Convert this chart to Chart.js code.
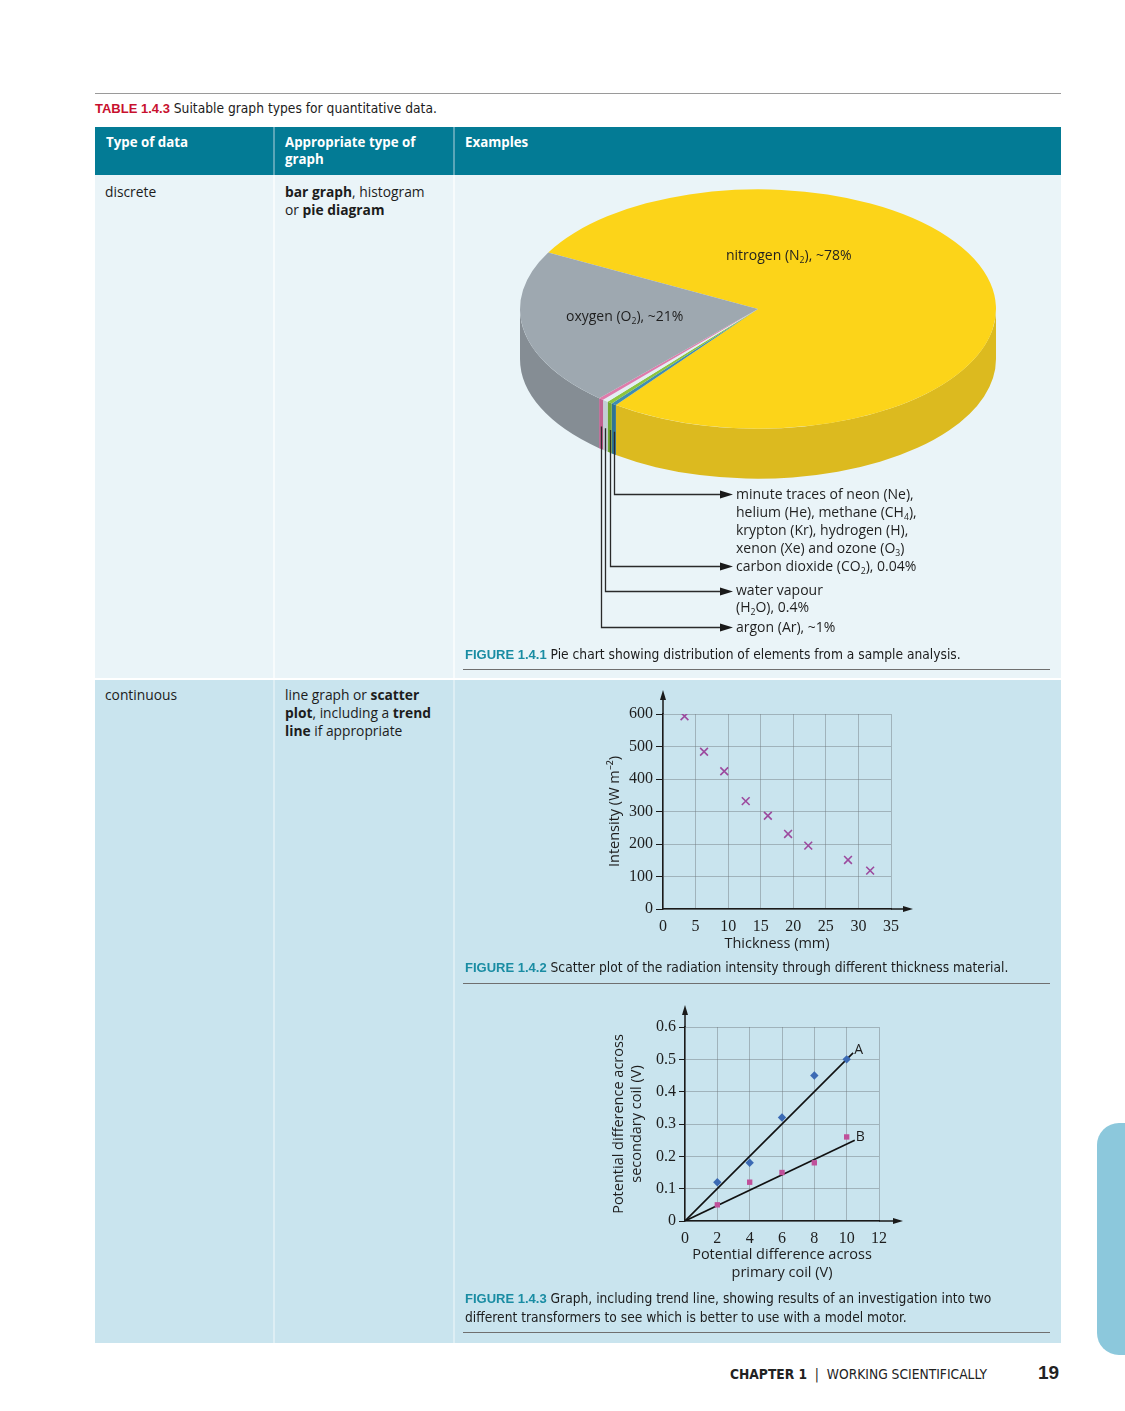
<!DOCTYPE html>
<html>
<head>
<meta charset="utf-8">
<script src="https://cdn.jsdelivr.net/npm/chart.js@4.4.1/dist/chart.umd.min.js"></script>
<style>
  html, body { margin: 0; padding: 0; background: #fff; }
  #page { position: relative; width: 1125px; height: 1411px; overflow: hidden; font-family: "Open Sans", sans-serif; color: #1c1c1c; }
  .abs { position: absolute; white-space: nowrap; }
  .box { position: absolute; }
  .cond { font-family: "Liberation Sans Narrow", "DejaVu Sans Condensed", sans-serif; font-size: 13.7px; line-height: 18px; }
  .tag { font-family: "Liberation Sans", sans-serif; font-weight: bold; font-size: 13px; }
  .head { color: #fff; font-weight: 700; font-size: 13.3px; line-height: 17px; z-index: 3; }
  .cell { font-size: 13.8px; line-height: 18px; z-index: 3; }
  .cell b { font-weight: 700; }
  .lbl { font-size: 14px; line-height: 18px; z-index: 3; color: #1f1f1f; }
  sub { font-size: 0.62em; vertical-align: -0.3em; line-height: 0; }
  canvas { position: absolute; z-index: 2; }
</style>
</head>
<body>
<div id="page">
  <!-- page furniture -->
  <div class="box" style="left:95px;top:93px;width:966px;height:1px;background:#9a9a9a"></div>
  <div class="abs cond" style="left:95px;top:99px"><span class="tag" style="color:#c8102e">TABLE 1.4.3</span> Suitable graph types for quantitative data.</div>

  <div class="box" style="left:95px;top:127px;width:966px;height:48px;background:#037b95"></div>
  <div class="box" style="left:95px;top:175px;width:966px;height:503px;background:#eaf4f8"></div>
  <div class="box" style="left:95px;top:680px;width:966px;height:663px;background:#c9e4ee"></div>
  <div class="box" style="left:273px;top:127px;width:2px;height:48px;background:#5aa6b8"></div>
  <div class="box" style="left:453px;top:127px;width:2px;height:48px;background:#5aa6b8"></div>
  <div class="box" style="left:273px;top:175px;width:2px;height:503px;background:#f7fbfc"></div>
  <div class="box" style="left:453px;top:175px;width:2px;height:503px;background:#f7fbfc"></div>
  <div class="box" style="left:273px;top:680px;width:2px;height:663px;background:#ddeef4"></div>
  <div class="box" style="left:453px;top:680px;width:2px;height:663px;background:#ddeef4"></div>

  <div class="abs head" style="left:106px;top:134px">Type of data</div>
  <div class="abs head" style="left:285px;top:134px">Appropriate type of<br>graph</div>
  <div class="abs head" style="left:465px;top:134px">Examples</div>

  <div class="abs cell" style="left:105px;top:183px">discrete</div>
  <div class="abs cell" style="left:285px;top:183px"><b>bar graph</b>, histogram<br>or <b>pie diagram</b></div>
  <div class="abs cell" style="left:105px;top:686px">continuous</div>
  <div class="abs cell" style="left:285px;top:686px">line graph or <b>scatter</b><br><b>plot</b>, including a <b>trend</b><br><b>line</b> if appropriate</div>

  <!-- figure 1.4.1 -->
  <canvas id="pieChart" width="500" height="480" style="left:508px;top:170px"></canvas>
  <div class="abs lbl" style="left:726px;top:246px">nitrogen (N<sub>2</sub>), ~78%</div>
  <div class="abs lbl" style="left:566px;top:307px">oxygen (O<sub>2</sub>), ~21%</div>
  <div class="abs lbl" style="left:736px;top:485px">minute traces of neon (Ne),<br>helium (He), methane (CH<sub>4</sub>),<br>krypton (Kr), hydrogen (H),<br>xenon (Xe) and ozone (O<sub>3</sub>)<br>carbon dioxide (CO<sub>2</sub>), 0.04%</div>
  <div class="abs lbl" style="left:736px;top:581px;line-height:17px">water vapour<br>(H<sub>2</sub>O), 0.4%</div>
  <div class="abs lbl" style="left:736px;top:618px">argon (Ar), ~1%</div>
  <div class="abs cond" style="left:465px;top:645px;z-index:3"><span class="tag" style="color:#198ca3">FIGURE 1.4.1</span> Pie chart showing distribution of elements from a sample analysis.</div>
  <div class="box" style="left:463px;top:669px;width:587px;height:1px;background:#6f6f6f"></div>

  <!-- figure 1.4.2 -->
  <canvas id="scatterChart" width="340" height="290" style="left:590px;top:680px"></canvas>
  <div class="abs cond" style="left:465px;top:958px;z-index:3"><span class="tag" style="color:#198ca3">FIGURE 1.4.2</span> Scatter plot of the radiation intensity through different thickness material.</div>
  <div class="box" style="left:463px;top:983px;width:587px;height:1px;background:#6f6f6f"></div>

  <!-- figure 1.4.3 -->
  <canvas id="coilChart" width="320" height="300" style="left:600px;top:990px"></canvas>
  <div class="abs cond" style="left:465px;top:1289px;z-index:3"><span class="tag" style="color:#198ca3">FIGURE 1.4.3</span> Graph, including trend line, showing results of an investigation into two<br>different transformers to see which is better to use with a model motor.</div>
  <div class="box" style="left:463px;top:1332px;width:587px;height:1px;background:#6f6f6f"></div>

  <!-- footer -->
  <div class="abs cond" style="left:730px;top:1365px;color:#222"><span style="font-weight:bold">CHAPTER 1</span> &nbsp;|&nbsp; WORKING SCIENTIFICALLY</div>
  <div class="abs" style="left:1038px;top:1361px;font-family:'Liberation Sans',sans-serif;font-weight:bold;font-size:19px;line-height:24px;color:#222">19</div>
  <div class="box" style="left:1097px;top:1123px;width:40px;height:232px;background:#8cc8dc;border-radius:22px 0 0 22px"></div>
</div>

<script>
// ---------- 그림 1.4.1 : 공기 성분 (그려진 비율 기준, %) ----------
const gasNames = ['nitrogen', 'minute traces', 'carbon dioxide', 'water vapour', 'argon', 'oxygen'];
const gasShare = [77.35, 0.35, 0.35, 0.4, 0.35, 21.2];
const gasTop = ['#fcd419', '#3f8db2', '#8cc43f', '#e4eef3', '#df7bab', '#9ea8b0'];
const gasSide = ['#dcba1f', '#2f7393', '#72a631', '#c3ced5', '#c26191', '#858d94'];

// ---------- 그림 1.4.2 : 두께 vs 세기 ----------
const thickness = [3.3, 6.3, 9.4, 12.7, 16.1, 19.2, 22.3, 28.4, 31.8];
const intensity = [593, 484, 424, 332, 287, 231, 195, 151, 118];
const thicknessTicks = [0, 5, 10, 15, 20, 25, 30, 35];
const intensityTicks = [0, 100, 200, 300, 400, 500, 600];

// ---------- 그림 1.4.3 : 변압기 A, B ----------
const primaryV = [2, 4, 6, 8, 10];
const secondaryA = [0.12, 0.18, 0.32, 0.45, 0.50];
const secondaryB = [0.05, 0.12, 0.15, 0.18, 0.26];
const trendAX = [0, 10.4];
const trendAY = [0, 0.52];
const trendBX = [0, 10.5];
const trendBY = [0, 0.25];
const primaryTicks = [0, 2, 4, 6, 8, 10, 12];
const secondaryTicks = [0, 0.1, 0.2, 0.3, 0.4, 0.5, 0.6];

const toPoints = (xs, ys) => xs.map((x, i) => ({x: x, y: ys[i]}));

// 3D 파이 : 위에서 본 타원 + 앞쪽 옆면
const TILT = 0.503;
const DEPTH = 50;
const pie3d = {
    id: 'pie3d',
    beforeDatasetsDraw(chart) {
        let ctx = chart.ctx;
        let arcs = chart.getDatasetMeta(0).data;
        let cx = arcs[0].x, cy = arcs[0].y;
        ctx.save();
        ctx.translate(cx, cy);
        ctx.scale(1, TILT);
        ctx.translate(-cx, -cy);
        let d = DEPTH / TILT;
        arcs.forEach(function(arc, i) {
            let p = arc.getProps(['startAngle', 'endAngle', 'outerRadius']);
            for (let k = 0; k <= 2; k++) {
                let lo = Math.max(p.startAngle, 2 * Math.PI * k);
                let hi = Math.min(p.endAngle, 2 * Math.PI * k + Math.PI);
                if (hi <= lo) continue;
                ctx.beginPath();
                ctx.arc(cx, cy, p.outerRadius, lo, hi);
                ctx.arc(cx, cy + d, p.outerRadius, hi, lo, true);
                ctx.closePath();
                ctx.fillStyle = gasSide[i];
                ctx.fill();
            }
        });
    },
    afterDatasetsDraw(chart) {
        let ctx = chart.ctx;
        ctx.restore();
        // 작은 조각들의 지시선
        let arcs = chart.getDatasetMeta(0).data;
        let cx = arcs[0].x, cy = arcs[0].y;
        let targets = {1: 324, 2: 396, 3: 421, 4: 457};
        let tipX = 225;
        ctx.save();
        ctx.strokeStyle = '#2a2a2a';
        ctx.fillStyle = '#1a1a1a';
        ctx.lineWidth = 1.3;
        Object.keys(targets).forEach(function(key) {
            let p = arcs[key].getProps(['startAngle', 'endAngle', 'outerRadius']);
            let mid = (p.startAngle + p.endAngle) / 2;
            let x = Math.round(cx + p.outerRadius * Math.cos(mid)) + 0.5;
            let y0 = cy + TILT * p.outerRadius * Math.sin(mid) + DEPTH * 0.55;
            let ty = targets[key] + 0.5;
            ctx.beginPath();
            ctx.moveTo(x, y0);
            ctx.lineTo(x, ty);
            ctx.lineTo(tipX - 12, ty);
            ctx.stroke();
            ctx.beginPath();
            ctx.moveTo(tipX, ty);
            ctx.lineTo(tipX - 13, ty - 4);
            ctx.lineTo(tipX - 13, ty + 4);
            ctx.closePath();
            ctx.fill();
        });
        ctx.restore();
    }
};

new Chart(document.getElementById('pieChart'), {
    type: 'pie',
    data: {
        labels: gasNames,
        datasets: [{
            data: gasShare,
            backgroundColor: gasTop,
            borderWidth: 0,
            radius: 238,
            clip: false
        }]
    },
    options: {
        responsive: false,
        animation: false,
        events: [],
        rotation: 298.2,
        layout: { padding: { top: 0, bottom: 202, left: 0, right: 0 } },
        plugins: { legend: { display: false }, tooltip: { enabled: false } }
    },
    plugins: [pie3d]
});

// 축 끝 화살표
const axisArrows = {
    id: 'axisArrows',
    afterDraw(chart, args, opts) {
        let ctx = chart.ctx;
        let a = chart.chartArea;
        ctx.save();
        ctx.strokeStyle = '#1a1a1a';
        ctx.fillStyle = '#1a1a1a';
        ctx.lineWidth = 1.5;
        ctx.beginPath();
        ctx.moveTo(a.left, a.top);
        ctx.lineTo(a.left, a.top - opts.up + 8);
        ctx.moveTo(a.right, a.bottom);
        ctx.lineTo(a.right + opts.right - 8, a.bottom);
        ctx.stroke();
        ctx.beginPath();
        ctx.moveTo(a.left, a.top - opts.up);
        ctx.lineTo(a.left - 3, a.top - opts.up + 10);
        ctx.lineTo(a.left + 3, a.top - opts.up + 10);
        ctx.closePath();
        ctx.fill();
        ctx.beginPath();
        ctx.moveTo(a.right + opts.right, a.bottom);
        ctx.lineTo(a.right + opts.right - 10, a.bottom - 3);
        ctx.lineTo(a.right + opts.right - 10, a.bottom + 3);
        ctx.closePath();
        ctx.fill();
        ctx.restore();
    }
};

const tickFont = { family: 'Liberation Serif', size: 16 };
const titleFont = { family: 'Open Sans', size: 14.5, lineHeight: '18px' };
const gridColor = 'rgba(110,120,125,0.45)';

function axis(min, max, ticks, opt) {
    return {
        type: 'linear',
        min: min,
        max: max,
        afterBuildTicks: function(s) { s.ticks = ticks.map(v => ({ value: v })); },
        ticks: { font: tickFont, color: '#1e1e1e', padding: opt.pad },
        grid: { color: gridColor, lineWidth: 1, tickLength: opt.tick, tickColor: opt.tickColor },
        border: { color: '#1a1a1a', width: 1.5 },
        title: { display: true, text: opt.title, font: titleFont, color: '#1e1e1e', padding: opt.titlePad },
        afterFit: opt.fit
    };
}

new Chart(document.getElementById('scatterChart'), {
    type: 'scatter',
    data: {
        datasets: [{
            data: toPoints(thickness, intensity),
            pointStyle: 'crossRot',
            pointRadius: 5.5,
            borderColor: '#9c4a9e',
            backgroundColor: '#9c4a9e',
            borderWidth: 1.6
        }]
    },
    options: {
        responsive: false,
        animation: false,
        events: [],
        layout: { padding: { left: 13, right: 39, top: 34, bottom: 11 } },
        plugins: { legend: { display: false }, tooltip: { enabled: false }, axisArrows: { up: 24, right: 22 } },
        scales: {
            x: axis(0, 35, thicknessTicks, { pad: 2, tick: 6, tickColor: 'transparent', title: 'Thickness (mm)',
                titlePad: { top: 0, bottom: 6 }, fit: s => { s.height = 50; } }),
            y: axis(0, 600, intensityTicks, { pad: 3, tick: 7, tickColor: '#1a1a1a', title: 'Intensity (W m⁻²)',
                titlePad: { top: 3, bottom: 0 }, fit: s => { s.width = 60; } })
        }
    },
    plugins: [axisArrows]
});

// 추세선 끝의 A, B 표시
const lineTags = {
    id: 'lineTags',
    afterDatasetsDraw(chart) {
        let ctx = chart.ctx;
        ctx.save();
        ctx.font = '14px "Open Sans"';
        ctx.fillStyle = '#1e1e1e';
        ctx.textBaseline = 'middle';
        [[2, 'A'], [3, 'B']].forEach(function(t) {
            let pts = chart.getDatasetMeta(t[0]).data;
            let end = pts[pts.length - 1];
            ctx.fillText(t[1], end.x + 1, end.y - 3);
        });
        ctx.restore();
    }
};

new Chart(document.getElementById('coilChart'), {
    type: 'scatter',
    data: {
        datasets: [
            { data: toPoints(primaryV, secondaryA), pointStyle: 'rectRot', pointRadius: 4.2,
              backgroundColor: '#3b6ab4', borderColor: '#3b6ab4', borderWidth: 0 },
            { data: toPoints(primaryV, secondaryB), pointStyle: 'rect', pointRadius: 3.8,
              backgroundColor: '#c0509a', borderColor: '#c0509a', borderWidth: 0 },
            { data: toPoints(trendAX, trendAY), showLine: true, pointRadius: 0, borderColor: '#111', borderWidth: 1.6 },
            { data: toPoints(trendBX, trendBY), showLine: true, pointRadius: 0, borderColor: '#111', borderWidth: 1.6 }
        ]
    },
    options: {
        responsive: false,
        animation: false,
        events: [],
        layout: { padding: { left: 10, right: 41, top: 37, bottom: 8 } },
        plugins: { legend: { display: false }, tooltip: { enabled: false }, axisArrows: { up: 22, right: 24 } },
        scales: {
            x: axis(0, 12, primaryTicks, { pad: 2, tick: 6, tickColor: 'transparent',
                title: ['Potential difference across', 'primary coil (V)'],
                titlePad: { top: 0, bottom: 0 }, fit: s => { s.height = 61; } }),
            y: axis(0, 0.6, secondaryTicks, { pad: 3, tick: 6, tickColor: '#1a1a1a',
                title: ['Potential difference across', 'secondary coil (V)'],
                titlePad: { top: 0, bottom: 0 }, fit: s => { s.width = 75; } })
        }
    },
    plugins: [axisArrows, lineTags]
});
</script>
</body>
</html>
